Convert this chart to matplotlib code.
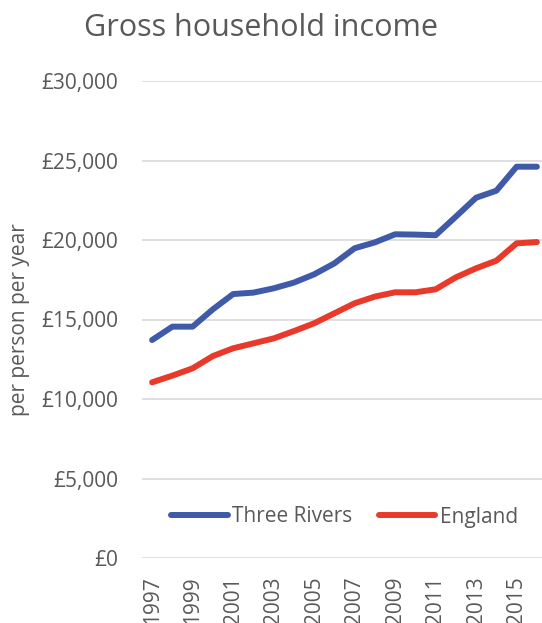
import matplotlib.pyplot as plt

plt.rcParams['font.family'] = ['Open Sans', 'DejaVu Sans']

# Data
years = list(range(1997, 2017))
three_rivers = [13710, 14550, 14550, 15640, 16600, 16690, 16960, 17320, 17840, 18530,
                19480, 19850, 20360, 20340, 20300, 21470, 22660, 23100, 24610, 24610]
england = [11050, 11470, 11930, 12700, 13190, 13500, 13810, 14270, 14760, 15390,
           16020, 16440, 16710, 16710, 16900, 17650, 18220, 18700, 19790, 19870]
y_ticks = [0, 5000, 10000, 15000, 20000, 25000, 30000]
x_ticks = years[::2]

text_color = '#595959'
grid_color = '#D9D9D9'

fig = plt.figure(figsize=(5.42, 6.23), dpi=100)
ax = fig.add_axes([142 / 542, 65 / 623, 405 / 542, 477 / 623])

ax.plot(years, three_rivers, color='#3F5AA8', linewidth=4.3, solid_capstyle='round',
        label='Three Rivers')
ax.plot(years, england, color='#E8392A', linewidth=4.3, solid_capstyle='round',
        label='England')

ax.set_xlim(1996.5, 2016.5)
ax.set_ylim(0, 30000)
ax.set_yticks(y_ticks)
ax.set_yticklabels(['£{:,}'.format(v) for v in y_ticks])
ax.set_xticks(x_ticks)
ax.set_xticklabels([str(y) for y in x_ticks], rotation=90)

ax.grid(axis='y', color=grid_color, linewidth=1.2)
ax.set_axisbelow(True)
for side in ['top', 'right', 'left', 'bottom']:
    ax.spines[side].set_visible(False)
ax.tick_params(axis='both', length=0, colors=text_color, labelsize=15)
ax.tick_params(axis='y', pad=17)
ax.tick_params(axis='x', pad=13)

ax.set_ylabel('per person per year', fontsize=15, color=text_color, labelpad=8)

ax.legend(loc='center', bbox_to_anchor=(0.5, 41 / 477), ncol=2, frameon=False,
          fontsize=15, handlelength=2.7, handletextpad=0.2, columnspacing=1.3,
          labelcolor=text_color)

fig.text(261 / 542, 1 - 28 / 623, 'Gross household income', ha='center', va='center',
         fontsize=22, color=text_color)

fig.savefig('out.png', dpi=100)
